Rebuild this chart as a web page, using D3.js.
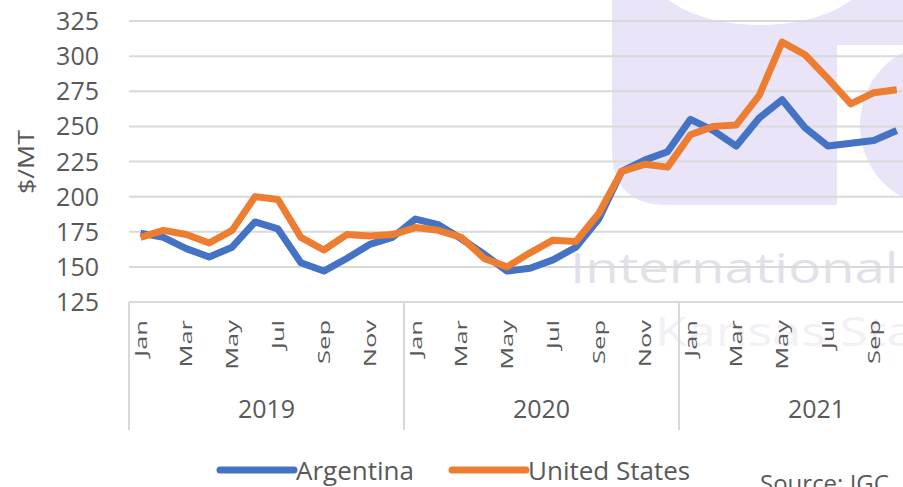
<!DOCTYPE html>
<html>
<head>
<meta charset="utf-8">
<script src="https://cdn.jsdelivr.net/npm/d3@7"></script>
<style>
  body { margin: 0; background: #fff; }
  svg { display: block; font-family: "Open Sans", sans-serif; }
</style>
</head>
<body>
<div id="chart"></div>
<script>
// monthly prices, Jan 2019 .. Oct 2021
var years = ['2019', '2020', '2021'];
var months = ['Jan', 'Feb', 'Mar', 'Apr', 'May', 'Jun', 'Jul', 'Aug', 'Sep', 'Oct', 'Nov', 'Dec'];
var yTicks = [125, 150, 175, 200, 225, 250, 275, 300, 325];

var argentina = [174, 171, 163, 157, 164, 182, 177, 153, 147, 156, 166, 171,
                 184, 180, 170, 159, 147, 149, 155, 164, 184, 218, 226, 232,
                 255, 247, 236, 256, 269, 249, 236, 238, 240, 247];
var unitedStates = [171, 176, 173, 167, 176, 200, 198, 171, 162, 173, 172, 173,
                    178, 176, 171, 156, 150, 160, 169, 168, 188, 218, 223, 221,
                    244, 250, 251, 272, 310, 301, 284, 266, 274, 276];

var series = [
  { name: 'Argentina', values: argentina, color: '#4472C4' },
  { name: 'United States', values: unitedStates, color: '#ED7D31' }
];

var width = 903;
var height = 487;
var grey = '#595959';
var gridColor = '#d9d9d9';
var lavender = '#e9e4f7';

var keys = [];
years.forEach(function(y) {
  months.forEach(function(m) { keys.push(y + '-' + m); });
});

var x = d3.scaleBand().domain(keys).range([129, 129 + 36 * 275 / 12]).padding(0);
var y = d3.scaleLinear().domain([125, 325]).range([302, 21]);

function cx(i) { return x(keys[i]) + x.bandwidth() / 2; }

var svg = d3.select('#chart').append('svg')
  .attr('width', width)
  .attr('height', height);

// watermark behind the chart
var wm = svg.append('g');
wm.append('path')
  .attr('d', 'M612,0 H903 V45 H837 V205 H667 Q612,205 612,150 Z')
  .attr('fill', lavender);
wm.append('ellipse')
  .attr('cx', 760).attr('cy', -25).attr('rx', 105).attr('ry', 50)
  .attr('fill', '#fff');
wm.append('ellipse')
  .attr('cx', 935).attr('cy', 125).attr('rx', 75).attr('ry', 80)
  .attr('fill', lavender);
wm.append('text')
  .attr('transform', 'translate(570,283) scale(1.3,1)')
  .attr('font-size', 42)
  .attr('fill', '#e3e0ea')
  .text('International');
wm.append('text')
  .attr('transform', 'translate(655,346) scale(1.3,1)')
  .attr('font-size', 40)
  .attr('fill', '#f2f0f5')
  .text('Kansas State');

// gridlines
svg.append('g').selectAll('line')
  .data(yTicks)
  .enter().append('line')
  .attr('x1', 129).attr('x2', width)
  .attr('y1', function(d) { return y(d); })
  .attr('y2', function(d) { return y(d); })
  .attr('stroke', gridColor)
  .attr('stroke-width', 2);

// y tick labels
svg.append('g').selectAll('text')
  .data(yTicks)
  .enter().append('text')
  .attr('x', 99)
  .attr('y', function(d) { return y(d); })
  .attr('dy', '0.36em')
  .attr('text-anchor', 'end')
  .attr('font-size', 25)
  .attr('fill', grey)
  .text(function(d) { return d; });

svg.append('text')
  .attr('transform', 'translate(34,162) rotate(-90) scale(1.28,1)')
  .attr('text-anchor', 'middle')
  .attr('font-size', 21)
  .attr('fill', grey)
  .text('$/MT');

// category axis: year separators
svg.append('g').selectAll('line')
  .data(years)
  .enter().append('line')
  .attr('x1', function(d) { return x(d + '-Jan'); })
  .attr('x2', function(d) { return x(d + '-Jan'); })
  .attr('y1', 302).attr('y2', 430)
  .attr('stroke', gridColor)
  .attr('stroke-width', 2);

// month labels, every other month
svg.append('g').selectAll('text')
  .data(keys.filter(function(k, i) { return i % 2 === 0; }))
  .enter().append('text')
  .attr('transform', function(k) {
    return 'translate(' + (x(k) + x.bandwidth() / 2) + ',320) rotate(-90) scale(1.5,1)';
  })
  .attr('dy', '0.36em')
  .attr('text-anchor', 'end')
  .attr('font-size', 17)
  .attr('fill', grey)
  .text(function(k) { return k.split('-')[1]; });

svg.append('g').selectAll('text')
  .data(years)
  .enter().append('text')
  .attr('x', function(d) { return x(d + '-Jan') + x.bandwidth() * 6; })
  .attr('y', 418)
  .attr('text-anchor', 'middle')
  .attr('font-size', 25)
  .attr('fill', grey)
  .text(function(d) { return d; });

// lines
var line = d3.line()
  .x(function(d, i) { return cx(i); })
  .y(function(d) { return y(d); });

svg.append('g').selectAll('path')
  .data(series)
  .enter().append('path')
  .attr('d', function(s) { return line(s.values); })
  .attr('fill', 'none')
  .attr('stroke', function(s) { return s.color; })
  .attr('stroke-width', 7)
  .attr('stroke-linejoin', 'round');

// legend
var legendX = [220, 452];
var legend = svg.append('g').selectAll('g')
  .data(series)
  .enter().append('g')
  .attr('transform', function(s, i) { return 'translate(' + legendX[i] + ',470)'; });

legend.append('line')
  .attr('x1', 0).attr('x2', 74)
  .attr('y1', 0).attr('y2', 0)
  .attr('stroke', function(s) { return s.color; })
  .attr('stroke-width', 7)
  .attr('stroke-linecap', 'round');

legend.append('text')
  .attr('x', 76)
  .attr('y', 10)
  .attr('font-size', 26)
  .attr('fill', grey)
  .text(function(s) { return s.name; });

svg.append('text')
  .attr('x', 760)
  .attr('y', 492)
  .attr('font-size', 24)
  .attr('fill', grey)
  .text('Source: IGC');
</script>
</body>
</html>
